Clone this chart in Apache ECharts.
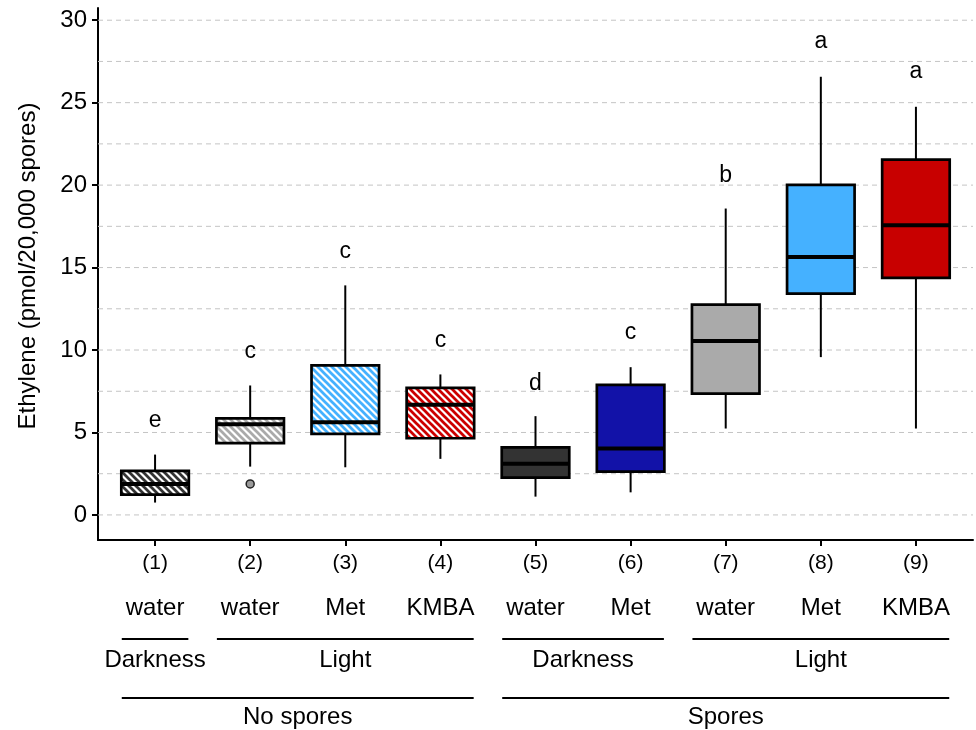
<!DOCTYPE html>
<html><head><meta charset="utf-8">
<script src="https://cdn.jsdelivr.net/npm/echarts@6/dist/echarts.min.js"></script>
<style>html,body{margin:0;padding:0;background:#fff}#c{width:976px;height:730px}</style>
</head><body><div id="c"></div>
<script>
// ---------- data ----------
const categories = ['(1)','(2)','(3)','(4)','(5)','(6)','(7)','(8)','(9)'];
const treatments = ['water','water','Met','KMBA','water','Met','water','Met','KMBA'];
// [min, Q1, median, Q3, max]
const boxData = [
  [0.75, 1.23, 1.88, 2.67, 3.66],
  [2.93, 4.35, 5.50, 5.85, 7.85],
  [2.89, 4.92, 5.62, 9.07, 13.92],
  [3.40, 4.65, 6.68, 7.71, 8.52],
  [1.11, 2.26, 3.11, 4.10, 5.99],
  [1.37, 2.63, 4.03, 7.89, 8.96],
  [5.24, 7.35, 10.54, 12.75, 18.58],
  [9.57, 13.42, 15.64, 20.01, 26.57],
  [5.24, 14.37, 17.57, 21.55, 24.75]
];
const outliers = [[2, 1.88]];
const letters = ['e','c','c','c','d','c','b','a','a'];
const letterY = [5.69, 9.88, 15.99, 10.55, 7.97, 11.07, 20.57, 28.68, 26.86];
const yTicks = [0, 5, 10, 15, 20, 25, 30];
const gridValues = [0, 2.5, 5, 7.5, 10, 12.5, 15, 17.5, 20, 22.5, 25, 27.5, 30];
// light/dark groups: [first, last]
const lightGroups = [[1, 1], [2, 4], [5, 6], [7, 9]];
const lightLabels = ['Darkness', 'Light', 'Darkness', 'Light'];
const sporeGroups = [[1, 4], [5, 9]];
const sporeLabels = ['No spores', 'Spores'];

// ---------- styles ----------
const colors = ['#333333','#aaaaaa','#45b1ff','#cc0000','#333333','#1212a8','#aaaaaa','#45b1ff','#c80000'];
const hatched = [true, true, true, true, false, false, false, false, false];
const FONT = '"Liberation Sans", Arial, Helvetica, sans-serif';
const yMin = -1.52, yMax = 30.74;
const xMin = 0.4, xMax = 9.6;
const BOX_HALF = 0.355;
const BRACKET_HALF = 0.35;

function makePattern(color) {
  const s = 7;
  const cv = document.createElement('canvas');
  cv.width = s; cv.height = s;
  const ctx = cv.getContext('2d');
  ctx.fillStyle = '#ffffff';
  ctx.fillRect(0, 0, s, s);
  ctx.strokeStyle = color;
  ctx.lineWidth = 2.7;
  for (const k of [-s, 0, s]) {
    ctx.beginPath();
    ctx.moveTo(k - 1, -1);
    ctx.lineTo(k + s + 1, s + 1);
    ctx.stroke();
  }
  return { image: cv, repeat: 'repeat' };
}
const fills = colors.map((c, i) => hatched[i] ? makePattern(c) : c);

const chart = echarts.init(document.getElementById('c'), null, { renderer: 'canvas' });

function renderGrid(params, api) {
  const v = api.value(0);
  const p1 = api.coord([xMin, v]);
  const p2 = api.coord([xMax, v]);
  return { type: 'line', shape: { x1: p1[0], y1: p1[1], x2: p2[0], y2: p2[1] },
    style: { stroke: '#c4c4c4', lineWidth: 1, lineDash: [5, 4] } };
}

function renderBox(params, api) {
  const x = api.value(0);
  const lo = api.coord([x, api.value(1)])[1];
  const q1 = api.coord([x, api.value(2)])[1];
  const med = api.coord([x, api.value(3)])[1];
  const q3 = api.coord([x, api.value(4)])[1];
  const hi = api.coord([x, api.value(5)])[1];
  const cx = api.coord([x, 0])[0];
  const xl = api.coord([x - BOX_HALF, 0])[0];
  const xr = api.coord([x + BOX_HALF, 0])[0];
  return { type: 'group', children: [
    { type: 'line', shape: { x1: cx, y1: hi, x2: cx, y2: q3 }, style: { stroke: '#000', lineWidth: 2 } },
    { type: 'line', shape: { x1: cx, y1: q1, x2: cx, y2: lo }, style: { stroke: '#000', lineWidth: 2 } },
    { type: 'rect', shape: { x: xl, y: q3, width: xr - xl, height: q1 - q3 },
      style: { fill: fills[params.dataIndex], stroke: '#000', lineWidth: 2.7 } },
    { type: 'line', shape: { x1: xl, y1: med, x2: xr, y2: med }, style: { stroke: '#000', lineWidth: 4 } }
  ]};
}

function renderLetter(params, api) {
  const p = api.coord([api.value(0), api.value(1)]);
  return { type: 'text', x: p[0], y: p[1],
    style: { text: letters[params.dataIndex], fontSize: 23, fontFamily: FONT, fill: '#000', align: 'center', verticalAlign: 'middle' } };
}

function renderTreatment(params, api) {
  const p = api.coord([api.value(0), yMin]);
  return { type: 'text', x: p[0], y: p[1] + 68,
    style: { text: treatments[params.dataIndex], fontSize: 24, fontFamily: FONT, fill: '#000', align: 'center', verticalAlign: 'middle' } };
}

function makeBracketRenderer(labels, lineOff, textOff) {
  return function (params, api) {
    const a = api.value(0), b = api.value(1);
    const p1 = api.coord([a - BRACKET_HALF, yMin]);
    const p2 = api.coord([b + BRACKET_HALF, yMin]);
    const mid = (p1[0] + p2[0]) / 2;
    return { type: 'group', children: [
      { type: 'line', shape: { x1: p1[0], y1: p1[1] + lineOff, x2: p2[0], y2: p1[1] + lineOff }, style: { stroke: '#000', lineWidth: 2 } },
      { type: 'text', x: mid, y: p1[1] + textOff,
        style: { text: labels[params.dataIndex], fontSize: 24, fontFamily: FONT, fill: '#000', align: 'center', verticalAlign: 'middle' } }
    ]};
  };
}

const option = {
  animation: false,
  backgroundColor: '#ffffff',
  textStyle: { fontFamily: FONT },
  grid: { left: 98, right: 3, top: 8, bottom: 190, containLabel: false },
  xAxis: {
    type: 'value', min: xMin, max: xMax,
    axisLine: { show: true, onZero: false, lineStyle: { color: '#000', width: 2 } },
    axisTick: { show: true, length: 6, customValues: [1,2,3,4,5,6,7,8,9], lineStyle: { color: '#000', width: 2 } },
    axisLabel: { show: true, customValues: [1,2,3,4,5,6,7,8,9], margin: 13,
      formatter: v => categories[Math.round(v) - 1], fontSize: 21, color: '#000', fontFamily: FONT },
    splitLine: { show: false }
  },
  yAxis: {
    type: 'value', min: yMin, max: yMax,
    axisLine: { show: true, onZero: false, lineStyle: { color: '#000', width: 2 } },
    axisTick: { show: true, length: 6, customValues: yTicks, lineStyle: { color: '#000', width: 2 } },
    axisLabel: { show: true, customValues: yTicks, margin: 11, fontSize: 24, color: '#000', fontFamily: FONT },
    splitLine: { show: false }
  },
  graphic: [{
    type: 'text', x: 28, y: 266, rotation: Math.PI / 2,
    style: { text: 'Ethylene (pmol/20,000 spores)', fontSize: 24, fontFamily: FONT, fill: '#000', align: 'center', verticalAlign: 'middle' }
  }],
  series: [
    { type: 'custom', name: 'grid', z: 1, silent: true, clip: false,
      data: gridValues.map(v => [v]), encode: { y: 0 }, renderItem: renderGrid },
    { type: 'custom', name: 'boxes', z: 3, clip: false,
      data: boxData.map((b, i) => [i + 1].concat(b)), encode: { x: 0, y: [1, 2, 3, 4, 5] }, renderItem: renderBox },
    { type: 'scatter', name: 'outliers', z: 4, data: outliers, symbol: 'circle', symbolSize: 8,
      itemStyle: { color: '#9a9a9a', borderColor: '#222', borderWidth: 1.5, opacity: 1 } },
    { type: 'custom', name: 'letters', z: 4, clip: false,
      data: letterY.map((y, i) => [i + 1, y]), encode: { x: 0, y: 1 }, renderItem: renderLetter },
    { type: 'custom', name: 'treatments', z: 4, clip: false,
      data: treatments.map((t, i) => [i + 1, yMin]), encode: { x: 0, y: 1 }, renderItem: renderTreatment },
    { type: 'custom', name: 'light', z: 4, clip: false,
      data: lightGroups.map(g => [g[0], g[1]]), encode: { x: [0, 1] }, renderItem: makeBracketRenderer(lightLabels, 99, 120) },
    { type: 'custom', name: 'spores', z: 4, clip: false,
      data: sporeGroups.map(g => [g[0], g[1]]), encode: { x: [0, 1] }, renderItem: makeBracketRenderer(sporeLabels, 158, 177) }
  ]
};
chart.setOption(option);
</script>
</body></html>
